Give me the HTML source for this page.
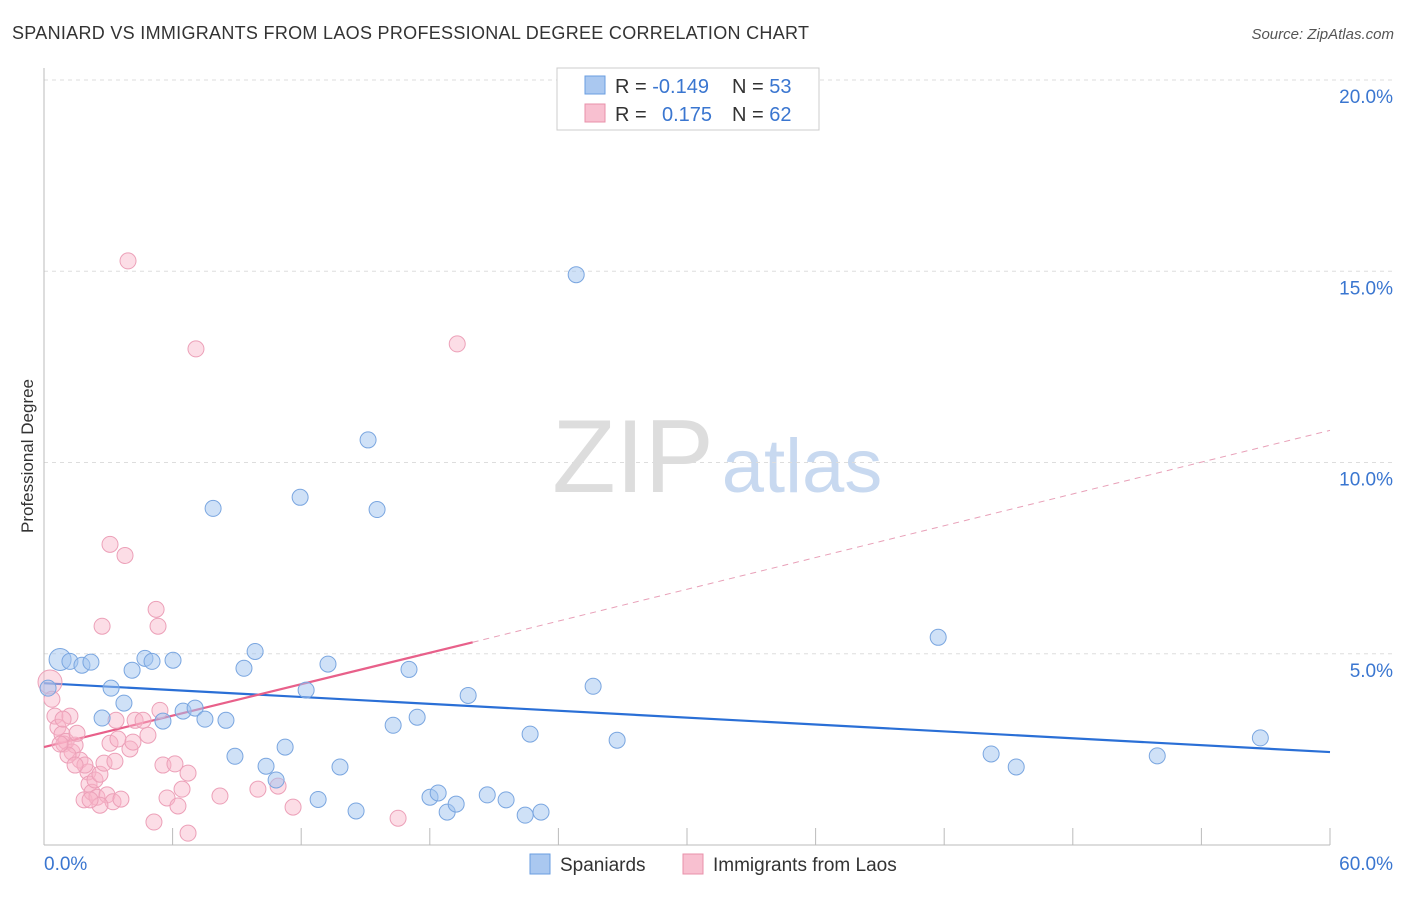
<!DOCTYPE html>
<html><head><meta charset="utf-8"><style>
body{margin:0;background:#fff;font-family:"Liberation Sans",sans-serif;}
svg text{font-family:"Liberation Sans",sans-serif;}
</style></head><body>
<svg id="chart" width="1406" height="892" viewBox="0 0 1406 892">
<text x="12" y="39" font-size="18" fill="#333" textLength="797">SPANIARD VS IMMIGRANTS FROM LAOS PROFESSIONAL DEGREE CORRELATION CHART</text>
<text x="1394" y="39" font-size="15" fill="#555" text-anchor="end" font-style="italic">Source: ZipAtlas.com</text>
<text transform="translate(33,456) rotate(-90)" font-size="17" fill="#333" text-anchor="middle">Professional Degree</text>
<g>
<text x="633" y="492" font-size="104" fill="#ddd" text-anchor="middle" font-family="Liberation Serif,serif">ZIP</text>
<text x="802" y="492" font-size="76" fill="#c8d9f0" text-anchor="middle">atlas</text>
</g>
<g id="grid"></g><g id="axes"></g><g id="trends"></g><g id="points"></g>
<g>
<rect x="557" y="68" width="262" height="62" fill="#fff" stroke="#ccc"/>
<rect x="585" y="76" width="20" height="18" fill="#aac8f0" stroke="#6a9ee0"/>
<rect x="585" y="104" width="20" height="18" fill="#f8c0d0" stroke="#e890aa"/>
<text x="615" y="93" font-size="20" fill="#333">R = <tspan fill="#3a76d0">-0.149</tspan></text>
<text x="732" y="93" font-size="20" fill="#333">N = <tspan fill="#3a76d0">53</tspan></text>
<text x="615" y="121" font-size="20" fill="#333">R = <tspan fill="#3a76d0" x="662">0.175</tspan></text>
<text x="732" y="121" font-size="20" fill="#333">N = <tspan fill="#3a76d0">62</tspan></text>
</g>
<g>
<rect x="530" y="854" width="20" height="20" fill="#aac8f0" stroke="#6a9ee0"/>
<text x="560" y="871" font-size="19" fill="#333">Spaniards</text>
<rect x="683" y="854" width="20" height="20" fill="#f8c0d0" stroke="#e890aa"/>
<text x="713" y="871" font-size="19" fill="#333">Immigrants from Laos</text>
</g>
</svg>
<script>
const yTicks=[5,10,15,20];
const xTickLabels=["0.0%","60.0%"];
const blueX=[0.75,1.21,1.77,2.19,3.13,2.71,3.73,4.11,4.71,5.04,6.02,5.55,6.49,7.05,7.51,8.49,7.89,8.91,9.33,9.85,10.36,10.83,11.25,11.95,12.23,12.79,13.25,13.81,14.56,15.12,15.54,16.29,17.03,17.41,18.01,18.39,18.81,19.23,19.79,20.68,21.56,22.45,22.68,23.19,24.83,25.62,26.74,41.72,44.19,45.36,51.94,56.75,0.19];
const blueY=[4.85,4.80,4.70,4.78,4.10,3.32,3.71,4.57,4.88,4.80,4.83,3.24,3.50,3.58,3.29,3.26,8.80,2.32,4.62,5.06,2.06,1.70,2.56,9.09,4.05,1.19,4.73,2.04,0.89,10.59,8.77,3.13,4.59,3.34,1.25,1.36,0.86,1.07,3.91,1.31,1.18,0.78,2.90,0.86,14.91,4.15,2.74,5.43,2.38,2.04,2.33,2.80,4.10];
const pinkX=[0.28,0.37,0.51,0.65,0.84,0.93,1.03,1.21,1.31,1.45,1.54,1.68,1.87,2.05,2.10,2.24,2.38,2.47,2.61,2.71,2.80,2.94,3.08,3.22,3.31,3.45,3.59,3.78,3.92,3.08,4.01,4.15,4.25,4.62,4.85,5.13,5.23,5.32,5.41,5.55,5.74,6.11,6.25,6.44,6.72,6.72,7.09,8.21,9.98,10.92,11.62,16.52,19.28,3.36,2.61,1.91,1.12,1.45,2.15,0.75,0.89];
const pinkY=[4.26,3.81,3.37,3.08,2.90,2.64,2.71,3.37,2.43,2.61,2.92,2.22,1.18,1.91,1.59,1.38,1.70,1.25,1.85,5.72,2.14,1.31,2.66,1.13,2.19,2.77,1.20,7.57,15.27,7.86,2.51,2.69,3.26,3.26,2.87,0.60,6.16,5.72,3.52,2.09,1.23,2.12,1.02,1.46,0.31,1.88,12.97,1.28,1.46,1.54,0.99,0.70,13.10,3.26,1.04,2.09,2.35,2.09,1.18,2.64,3.29];
const blueLargeIdx=[0];const pinkLargeIdx=[0];
const blueTrend=[[0,4.23],[60,2.43]];
const pinkTrend=[[0,2.56],[20,5.30],[60,10.84]];
const X0=44,X1=1330,Y0=845,Y20=80;
const sx=v=>X0+(X1-X0)*v/60, sy=v=>Y0-(Y0-Y20)*v/20;
const NS="http://www.w3.org/2000/svg";
function mk(tag,attrs,parent){const e=document.createElementNS(NS,tag);for(const k in attrs)e.setAttribute(k,attrs[k]);document.getElementById(parent).appendChild(e);return e;}
yTicks.forEach(t=>{
 const l=mk('line',{x1:X0,x2:1392,y1:sy(t),y2:sy(t),stroke:'#ddd','stroke-dasharray':'4,4'},'grid');
 
 
 const tx=mk('text',{x:1393,y:sy(t)+23,'font-size':19,fill:'#3a76d0','text-anchor':'end'},'grid');
 tx.textContent=t.toFixed(1)+'%';
 
 
});
let a=mk('line',{x1:X0,x2:X0,y1:68,y2:Y0,stroke:'#bbb'},'axes');


a=mk('line',{x1:X0,x2:X1,y1:Y0,y2:Y0,stroke:'#bbb'},'axes');


for(let i=1;i<=10;i++){const v=i*6;const t=mk('line',{x1:sx(v),x2:sx(v),y1:828,y2:Y0,stroke:'#bbb'},'axes');
 
 }
[[0,'start',X0],[1,'end',1393]].forEach(([i,anc,x])=>{const t=mk('text',{x:x,y:870,'font-size':19,fill:'#3a76d0','text-anchor':anc},'axes');t.textContent=xTickLabels[i];
 
 });
let tl=mk('line',{x1:sx(blueTrend[0][0]),y1:sy(blueTrend[0][1]),x2:sx(blueTrend[1][0]),y2:sy(blueTrend[1][1]),stroke:'#2a6fd6','stroke-width':2.2},'trends');


tl=mk('line',{x1:sx(pinkTrend[0][0]),y1:sy(pinkTrend[0][1]),x2:sx(pinkTrend[1][0]),y2:sy(pinkTrend[1][1]),stroke:'#e8608a','stroke-width':2.2},'trends');


tl=mk('line',{x1:sx(pinkTrend[1][0]),y1:sy(pinkTrend[1][1]),x2:sx(pinkTrend[2][0]),y2:sy(pinkTrend[2][1]),stroke:'#e8a0b8','stroke-width':1,'stroke-dasharray':'6,5'},'trends');


pinkX.forEach((v,i)=>{const c=mk('circle',{cx:sx(v),cy:sy(pinkY[i]),r:pinkLargeIdx.includes(i)?12:8,fill:'rgba(248,180,200,0.45)',stroke:'#eca0b8','stroke-width':1},'points');
 
 });
blueX.forEach((v,i)=>{const c=mk('circle',{cx:sx(v),cy:sy(blueY[i]),r:blueLargeIdx.includes(i)?11:8,fill:'rgba(160,195,240,0.5)',stroke:'#7aa6e0','stroke-width':1},'points');
 
 });
</script>
</body></html>
